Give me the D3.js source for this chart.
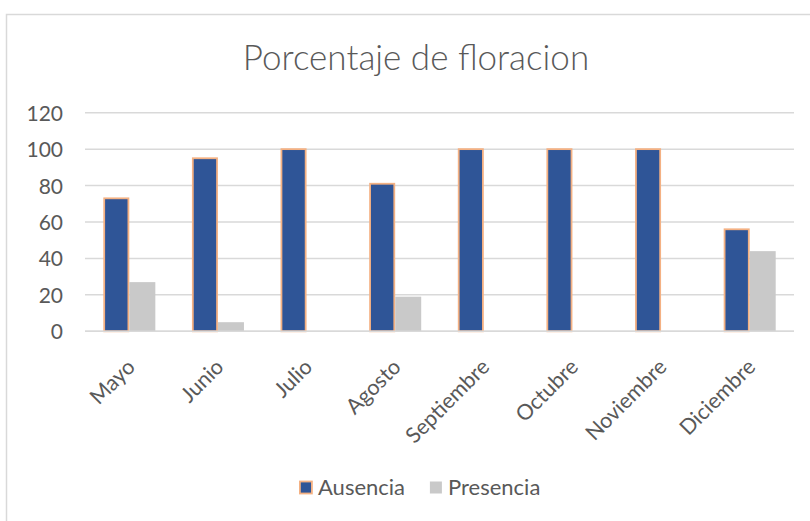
<!DOCTYPE html>
<html>
<head>
<meta charset="utf-8">
<script src="https://cdn.jsdelivr.net/npm/d3@7"></script>
<style>
  html, body { margin: 0; padding: 0; background: #fff; }
  svg { display: block; }
  text { font-family: Lato, "Open Sans", sans-serif; fill: #595959; }
</style>
</head>
<body>
<svg id="chart" width="810" height="521"></svg>
<script>
// Monthly flowering share (%)
const months = ["Mayo", "Junio", "Julio", "Agosto", "Septiembre", "Octubre", "Noviembre", "Diciembre"];
const ausencia = [73, 95, 100, 81, 100, 100, 100, 56];
const presencia = [27, 5, 0, 19, 0, 0, 0, 44];
const seriesNames = ["Ausencia", "Presencia"];
const yTicks = [0, 20, 40, 60, 80, 100, 120];
const titleText = "Porcentaje de floracion";

const colors = { Ausencia: "#2F5597", Presencia: "#C9C9C9" };
const barStroke = { Ausencia: "#F4B183", Presencia: "none" };

const svg = d3.select("#chart");
const W = 810, H = 521;
const plot = { left: 85, right: 794, top: 112.7, bottom: 331.3 };

// outer frame
svg.append("rect")
  .attr("x", 6.5).attr("y", 14.5)
  .attr("width", W).attr("height", H)
  .attr("fill", "#fff").attr("stroke", "#D9D9D9").attr("stroke-width", 1.5);

// title
svg.append("text")
  .attr("x", 416).attr("y", 70)
  .attr("text-anchor", "middle")
  .style("font-size", "35px").style("font-weight", 300)
  .text(titleText);

const rows = months.map((m, i) => ({ month: m, Ausencia: ausencia[i], Presencia: presencia[i] }));

const p = 0.413;
const x0 = d3.scaleBand().domain(months).range([plot.left, plot.right])
  .paddingInner(p).paddingOuter(p / 2);
const x1 = d3.scaleBand().domain(seriesNames).range([0, x0.bandwidth()]).padding(0);
const y = d3.scaleLinear().domain([0, 120]).range([plot.bottom, plot.top]);

// gridlines
svg.append("g")
  .selectAll("line").data(yTicks).join("line")
  .attr("x1", plot.left).attr("x2", plot.right)
  .attr("y1", d => y(d)).attr("y2", d => y(d))
  .attr("stroke", "#D9D9D9").attr("stroke-width", 1.5);

// y axis labels
const yAxis = d3.axisLeft(y).tickValues(yTicks).tickSize(0).tickPadding(0);
const yg = svg.append("g").attr("transform", `translate(63,0)`).call(yAxis);
yg.select(".domain").remove();
yg.selectAll("text").style("font-size", "21px").attr("fill", "#595959").attr("dy", "0.36em");

// bars
const groups = svg.append("g").selectAll("g").data(rows).join("g")
  .attr("transform", d => `translate(${x0(d.month)},0)`);
groups.selectAll("rect")
  .data(d => seriesNames.map(s => ({ key: s, value: d[s] })).filter(e => e.value > 0))
  .join("rect")
  .attr("x", d => x1(d.key) + (d.key === "Ausencia" ? 0.9 : 0))
  .attr("width", d => x1.bandwidth() - (d.key === "Ausencia" ? 1.8 : 0))
  .attr("y", d => y(d.value))
  .attr("height", d => y(0) - y(d.value))
  .attr("fill", d => colors[d.key])
  .attr("stroke", d => barStroke[d.key])
  .attr("stroke-width", 1.8);

// baseline
svg.append("line")
  .attr("x1", plot.left).attr("x2", plot.right)
  .attr("y1", y(0)).attr("y2", y(0))
  .attr("stroke", "#D9D9D9").attr("stroke-width", 1.5);

// x axis labels, rotated
const xAxis = d3.axisBottom(x0).tickSize(0).tickPadding(0);
const xg = svg.append("g").attr("transform", `translate(0,${plot.bottom})`).call(xAxis);
xg.select(".domain").remove();
xg.selectAll("text")
  .style("font-size", "21.5px").attr("fill", "#595959")
  .attr("text-anchor", "end")
  .attr("dy", null).attr("y", null)
  .attr("transform", "translate(7,37) rotate(-45)");

// legend
const legend = svg.append("g");
const legendItems = [
  { key: "Ausencia", x: 299 },
  { key: "Presencia", x: 429 }
];
legendItems.forEach(it => {
  legend.append("rect")
    .attr("x", it.x + 0.9).attr("y", 481.5).attr("width", 12).attr("height", 12)
    .attr("fill", colors[it.key]).attr("stroke", barStroke[it.key]).attr("stroke-width", 1.8);
  legend.append("text")
    .attr("x", it.x + 19).attr("y", 494.5)
    .style("font-size", "22px")
    .text(it.key);
});
</script>
</body>
</html>
